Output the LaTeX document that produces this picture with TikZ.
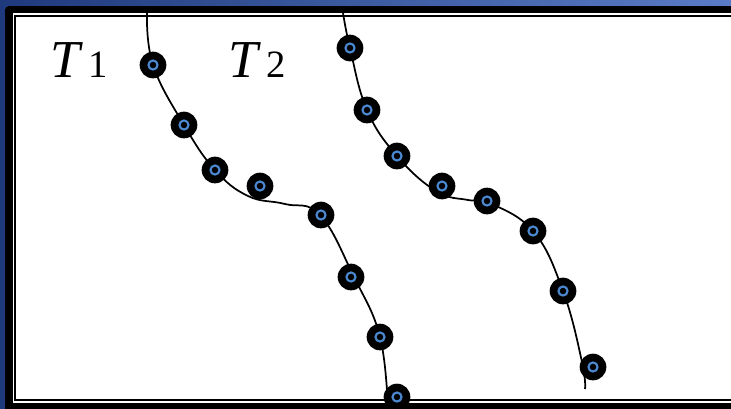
\documentclass[tikz,border=0pt]{standalone}
\usepackage{fontspec}
\setmainfont{Liberation Serif}
\definecolor{bgdark}{HTML}{1F3A7C}
\definecolor{bglight}{HTML}{5A7CC6}
\definecolor{beadblue}{HTML}{4A88D0}
\tikzset{
  bead/.style={circle, fill=black, inner sep=0pt, minimum size=20pt,
    path picture={\draw[beadblue, line width=1.6pt]
      (path picture bounding box.center) circle (3.4pt);}},
  track/.style={line width=1.3pt, smooth, tension=0.7},
  tlabel/.style={anchor=base west, inner sep=0pt}
}
\begin{document}
\begin{tikzpicture}[x=0.75pt,y=-0.75pt]
\clip (0,0) rectangle (731,408);
% background and frame
\shade[left color=bgdark, right color=bglight] (0,0) rectangle (731,408);
\fill[black, rounded corners=3pt] (5,6) rectangle (800,500);
\fill[white] (12.5,12.7) rectangle (800,402.7);
\draw[line width=1.5pt] (15,15.7) rectangle (800,400);

% the two tracks
\draw[track] plot coordinates {(147,12.7) (153,65) (184,125) (215,170)
  (248,196) (285,204) (320,215) (354,277) (380,337) (388,410)};
\draw[track] plot coordinates {(343,12.7) (350,48) (367,110) (397,156)
  (436,191) (468,200) (487,202) (533,231) (563,291) (582,362) (585,389)};

% beads
\foreach \p [count=\i] in {(153,65),(184,125),(215,170),(260,186),(321,215),
    (351,277),(380,337),(397,397)}
  \node[bead] (a\i) at \p {};
\foreach \p [count=\i] in {(350,48),(367,110),(397,156),(442,186),(487,201),
    (533,231),(563,291),(593,367)}
  \node[bead] (b\i) at \p {};

\node[tlabel] (t1) at (50,77) {\fontsize{40}{40}\selectfont\itshape T\,\upshape\fontsize{29}{29}\selectfont 1};
\node[tlabel] (t2) at (228,77) {\fontsize{40}{40}\selectfont\itshape T\,\upshape\fontsize{29}{29}\selectfont 2};
\end{tikzpicture}
\end{document}
